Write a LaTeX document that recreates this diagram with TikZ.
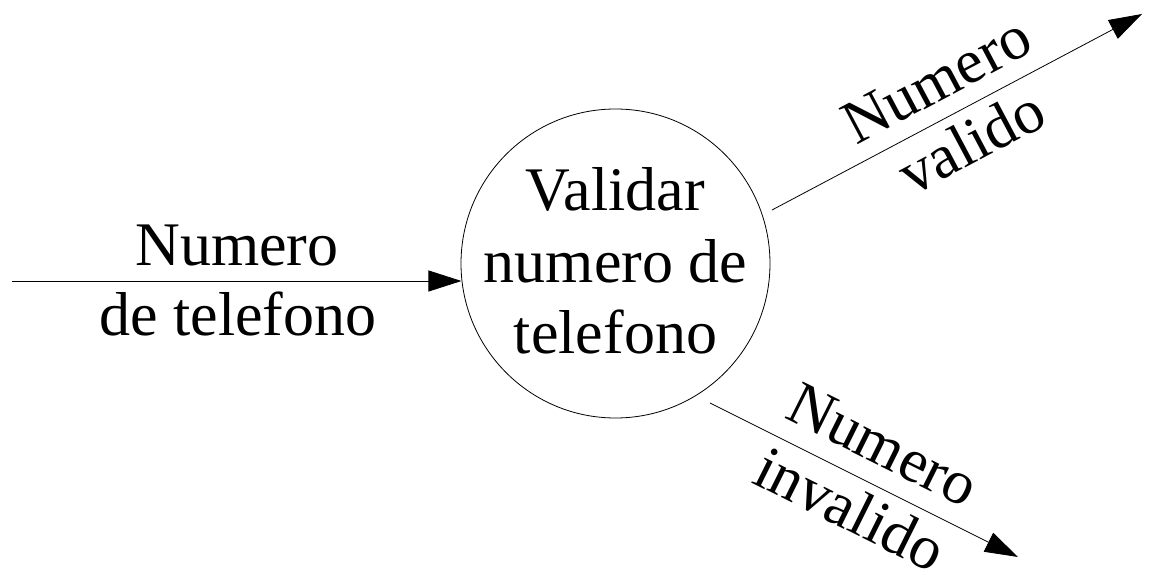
\documentclass[tikz,border=0pt]{standalone}
\usepackage{fontspec}
\setmainfont{Liberation Serif}
\usetikzlibrary{arrows.meta}
\begin{document}
\begin{tikzpicture}[x=1pt,y=-1pt,
  flow/.style={line width=0.8pt,-{Triangle[length=33pt,width=21pt]}},
  lbl/.style={font=\fontsize{62}{70}\selectfont,anchor=base,inner sep=0pt},
  proc/.style={circle,draw,line width=0.8pt,minimum size=309pt,inner sep=0pt},
  proctext/.style={align=center,inner sep=0pt,font=\fontsize{62}{71.5}\selectfont}]
\useasboundingbox (0,0) rectangle (1149,575);
\node[proc] (c) at (615.5,263.5) {};
\node[proctext] (ct) at (615.5,261) {Validar\\numero de\\telefono};
% input flow
\coordinate (in) at (12,281);
\draw[flow] (in) -- (in -| c.186.5);
\node[lbl] (inA) at (237,265) {Numero};
\node[lbl] (inB) at (238,335) {de telefono};
% valid flow
\coordinate (vs) at (772,210);
\coordinate (ve) at (1142,14);
\draw[flow] (vs) -- (ve);
\node[lbl,rotate=28] (vA) at (946,98) {Numero};
\node[lbl,rotate=28] (vB) at (981,160) {valido};
% invalid flow
\coordinate (is) at (710,403);
\coordinate (ie) at (1018,557);
\draw[flow] (is) -- (ie);
\node[lbl,rotate=-26.5] (iA) at (874,463) {Numero};
\node[lbl,rotate=-26.5] (iB) at (841,527.5) {invalido};
\end{tikzpicture}
\end{document}
